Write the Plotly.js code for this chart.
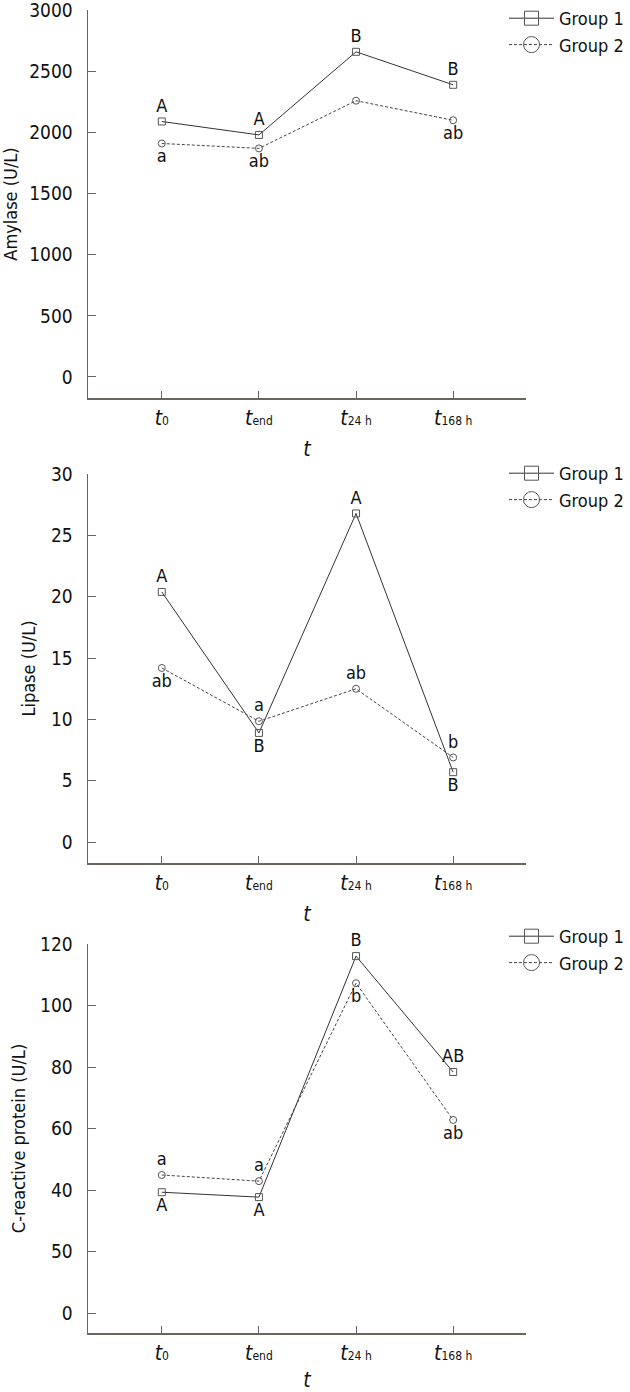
<!DOCTYPE html>
<html>
<head>
<meta charset="utf-8">
<script src="https://cdn.plot.ly/plotly-3.0.1.min.js"></script>
<style>html,body{margin:0;padding:0;background:#fff;}#chart{width:630px;height:1392px;}</style>
</head>
<body>
<div id="chart"></div>
<script>
// ---- data ----
var timeKeys = ["t0", "tend", "t24", "t168"];
var timeLabels = ["<i>t</i><span style='font-size:12px'>0</span>",
                  "<i>t</i><span style='font-size:12px'>end</span>",
                  "<i>t</i><span style='font-size:12px'>24 h</span>",
                  "<i>t</i><span style='font-size:12px'>168 h</span>"];
var seriesNames = ["Group 1", "Group 2"];

var amylaseG1 = [2090, 1980, 2660, 2390];
var amylaseG2 = [1910, 1870, 2260, 2100];
var amylaseLabG1 = ["A", "A", "B", "B"];
var amylaseLabG2 = ["a", "ab", "", "ab"];
var amylaseTicks = [0, 500, 1000, 1500, 2000, 2500, 3000];

var lipaseG1 = [20.4, 8.9, 26.8, 5.7];
var lipaseG2 = [14.2, 9.85, 12.5, 6.9];
var lipaseLabG1 = ["A", "B", "A", "B"];
var lipaseLabG2 = ["ab", "a", "ab", "b"];
var lipaseTicks = [0, 5, 10, 15, 20, 25, 30];

var crpG1 = [39.3, 37.7, 116.1, 78.4];
var crpG2 = [44.9, 42.9, 107.3, 62.8];
var crpLabG1 = ["A", "A", "B", "AB"];
var crpLabG2 = ["a", "a", "b", "ab"];
var crpTickVals = [0, 20, 40, 60, 80, 100, 120];
var crpTickText = ["0", "50", "40", "60", "80", "100", "120"];

// ---- label placement (style) ----
var amyPosG1 = ["top center","top center","top center","top center"];
var amyPosG2 = ["bottom center","bottom center","bottom center","bottom center"];
var lipPosG1 = ["top center","bottom center","top center","bottom center"];
var lipPosG2 = ["bottom center","top center","top center","top center"];
var crpPosG1 = ["bottom center","bottom center","top center","top center"];
var crpPosG2 = ["top center","top center","bottom center","bottom center"];

var FONT = "'DejaVu Sans Condensed', 'Noto Sans', sans-serif";
var AXC = "#6b6560";

function lineStyle(g) {
  return g === 1 ? {color: "#333", width: 1} : {color: "#444", width: 1, dash: "3px,2px"};
}
function tr(y, text, pos, g, xa, ya) {
  return {
    x: timeKeys, y: y, name: seriesNames[g - 1], text: text, textposition: pos,
    mode: "lines+markers+text", xaxis: xa, yaxis: ya, showlegend: false,
    textfont: {family: FONT, size: 18, color: "#111"},
    line: lineStyle(g),
    marker: {symbol: g === 1 ? "square-open" : "circle-open", size: 7, color: "#555", line: {width: 1}},
    cliponaxis: false
  };
}
// legend-only entries (bigger symbols, as in the original key)
function legTr(g, xa, ya, leg) {
  return {
    x: [null], y: [null], name: seriesNames[g - 1], mode: "lines+markers",
    xaxis: xa, yaxis: ya, legend: leg, showlegend: true,
    line: lineStyle(g),
    marker: {symbol: g === 1 ? "square-open" : "circle-open", size: g === 1 ? 14 : 16, color: "#555", line: {width: 1}}
  };
}

var data = [
  tr(amylaseG1, amylaseLabG1, amyPosG1, 1, "x", "y"),
  tr(amylaseG2, amylaseLabG2, amyPosG2, 2, "x", "y"),
  tr(lipaseG1, lipaseLabG1, lipPosG1, 1, "x2", "y2"),
  tr(lipaseG2, lipaseLabG2, lipPosG2, 2, "x2", "y2"),
  tr(crpG1, crpLabG1, crpPosG1, 1, "x3", "y3"),
  tr(crpG2, crpLabG2, crpPosG2, 2, "x3", "y3"),
  legTr(1, "x", "y", "legend"), legTr(2, "x", "y", "legend"),
  legTr(1, "x2", "y2", "legend2"), legTr(2, "x2", "y2", "legend2"),
  legTr(1, "x3", "y3", "legend3"), legTr(2, "x3", "y3", "legend3")
];

var W = 630, H = 1392;
function py(px) { return 1 - px / H; }
var xdom = [88 / W, 526 / W];

function xax(anchor) {
  return {
    domain: xdom, anchor: anchor, type: "category", range: [-0.76, 3.75],
    tickvals: timeKeys, ticktext: timeLabels,
    showline: true, linecolor: AXC, linewidth: 1.5, ticks: "inside", ticklen: 7, tickcolor: AXC,
    showgrid: false, zeroline: false,
    tickfont: {family: FONT, size: 21, color: "#111"},
    title: {text: "<i>t</i>", font: {family: FONT, size: 21, color: "#111"}, standoff: 12},
    automargin: false, fixedrange: true
  };
}
function yax(anchor, dom, range, title, extra) {
  var o = {
    domain: dom, anchor: anchor, range: range,
    showline: true, linecolor: AXC, linewidth: 1.5, ticks: "inside", ticklen: 8, tickcolor: AXC,
    showgrid: false, zeroline: false, ticklabelstandoff: 10, ticklabeloverflow: "allow",
    tickfont: {family: FONT, size: 19, color: "#111"},
    title: {text: title, font: {family: FONT, size: 18, color: "#111"}, standoff: 10},
    automargin: false, fixedrange: true
  };
  for (var k in extra) o[k] = extra[k];
  return o;
}
function leg(topPx) {
  return {x: 504 / W, xanchor: "left", y: py(topPx), yanchor: "top",
          font: {family: FONT, size: 18, color: "#111"}, bgcolor: "rgba(0,0,0,0)",
          itemwidth: 45, borderwidth: 0};
}

var layout = {
  width: W, height: H, margin: {l: 0, r: 0, t: 0, b: 0},
  paper_bgcolor: "#fff", plot_bgcolor: "#fff",
  xaxis: xax("y"), xaxis2: xax("y2"), xaxis3: xax("y3"),
  yaxis: yax("x", [py(398), py(10)], [-172, 3002], "Amylase (U/L)", {tickvals: amylaseTicks}),
  yaxis2: yax("x2", [py(863), py(474)], [-1.71, 30.02], "Lipase (U/L)", {tickvals: lipaseTicks}),
  yaxis3: yax("x3", [py(1333), py(944)], [-6.5, 120.05], "C-reactive protein (U/L)", {tickvals: crpTickVals, ticktext: crpTickText}),
  legend: leg(0), legend2: leg(455), legend3: leg(918),
  showlegend: true
};

Plotly.newPlot("chart", data, layout, {staticPlot: true});
</script>
</body>
</html>
